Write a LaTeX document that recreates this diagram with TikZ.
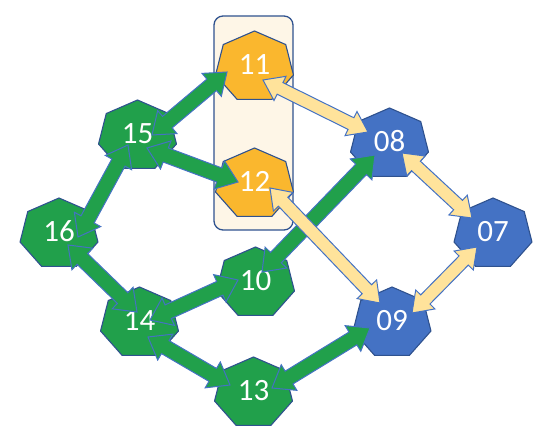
\documentclass[tikz,border=0pt]{standalone}
\usepackage{fontspec}
\setmainfont{Carlito}
\usetikzlibrary{calc,backgrounds}
\definecolor{ngreen}{HTML}{21A04B}
\definecolor{ngold}{HTML}{FAB72E}
\definecolor{nblue}{HTML}{4472C4}
\definecolor{nline}{HTML}{2F528F}
\definecolor{aline}{HTML}{4472C4}
\definecolor{ayel}{HTML}{FFE39B}
\definecolor{boxfill}{HTML}{FEF6E7}
\def\ahl{20}
\def\ahw{15}
\def\ash{7.5}
\newcommand\hept[2]{\filldraw[fill=#2,draw=nline,line width=1.1pt,line join=round,shift={(#1)},xscale=1.11] (90:36pt) -- (141.43:36pt) -- (192.86:36pt) -- (244.29:36pt) -- (295.71:36pt) -- (347.14:36pt) -- (38.57:36pt) -- cycle;}
\newcommand\blockarr[5]{%
 \draw[#1] let \p1=($(#2)+(#3)$), \p2=($(#4)+(#5)$),
   \n1={veclen(\x2-\x1,\y2-\y1)}, \n2={(\x2-\x1)/\n1}, \n3={(\y2-\y1)/\n1} in
  (\p1)
  -- ({\x1+\ahl*\n2-\ahw*\n3},{\y1+\ahl*\n3+\ahw*\n2})
  -- ({\x1+\ahl*\n2-\ash*\n3},{\y1+\ahl*\n3+\ash*\n2})
  -- ({\x2-\ahl*\n2-\ash*\n3},{\y2-\ahl*\n3+\ash*\n2})
  -- ({\x2-\ahl*\n2-\ahw*\n3},{\y2-\ahl*\n3+\ahw*\n2})
  -- (\p2)
  -- ({\x2-\ahl*\n2+\ahw*\n3},{\y2-\ahl*\n3-\ahw*\n2})
  -- ({\x2-\ahl*\n2+\ash*\n3},{\y2-\ahl*\n3-\ash*\n2})
  -- ({\x1+\ahl*\n2+\ash*\n3},{\y1+\ahl*\n3-\ash*\n2})
  -- ({\x1+\ahl*\n2+\ahw*\n3},{\y1+\ahl*\n3-\ahw*\n2})
  -- cycle;}
\tikzset{
 lbl/.style={text=white,font=\fontsize{31}{36}\selectfont,inner sep=0pt,text height=19.6pt,text depth=5pt},
 garrow/.style={fill=ngreen,draw=aline,line width=1pt,line join=miter},
 yarrow/.style={fill=ayel,draw=aline,line width=1pt,line join=miter},
 grpbox/.style={draw=nline,fill=boxfill,line width=1.3pt,rounded corners=9pt,minimum width=79pt,minimum height=214pt,inner sep=0pt}
}
\begin{document}
\begin{tikzpicture}[x=1pt,y=-1pt]
\useasboundingbox (0,0) rectangle (538,438);
\node[lbl] (n11) at (254.5,67) {11};
\node[lbl] (n12) at (254.5,184) {12};
\node[lbl] (n15) at (137.5,136) {15};
\node[lbl] (n16) at (59,234) {16};
\node[lbl] (n14) at (139.5,323) {14};
\node[lbl] (n10) at (255.5,283) {10};
\node[lbl] (n13) at (253.5,393) {13};
\node[lbl] (n08) at (389.5,144) {08};
\node[lbl] (n07) at (493,234) {07};
\node[lbl] (n09) at (392,323) {09};
\begin{pgfonlayer}{background}
\node[grpbox] (grp) at (253.5,123) {};
\hept{n11}{ngold}
\hept{n12}{ngold}
\hept{n15}{ngreen}
\hept{n16}{ngreen}
\hept{n14}{ngreen}
\hept{n10}{ngreen}
\hept{n13}{ngreen}
\hept{n08}{nblue}
\hept{n07}{nblue}
\hept{n09}{nblue}
\end{pgfonlayer}
% green connectors
\blockarr{garrow}{n15}{14.5,-1}{n11}{-27.5,5}
\blockarr{garrow}{n15}{9.5,12}{n12}{-16.5,-2}
\blockarr{garrow}{n16}{19,3}{n15}{-9.5,9}
\blockarr{garrow}{n16}{9,11}{n14}{-2.5,-11}
\blockarr{garrow}{n14}{10.5,-3}{n10}{-17.5,-3}
\blockarr{garrow}{n14}{8.5,14}{n13}{-23.5,-8}
\blockarr{garrow}{n13}{18.5,-5}{n09}{-22,5}
\blockarr{garrow}{n10}{6.5,-11}{n08}{-14.5,11}
% yellow connectors
\def\ahl{19}\def\ahw{13.5}\def\ash{6.5}
\blockarr{yarrow}{n12}{15.5,4}{n09}{-12,-20}
\blockarr{yarrow}{n11}{8.5,13}{n08}{-21.5,-12}
\blockarr{yarrow}{n08}{12.5,9}{n07}{-21,-16}
\blockarr{yarrow}{n09}{20,-10}{n07}{-16,13}
\end{tikzpicture}
\end{document}
